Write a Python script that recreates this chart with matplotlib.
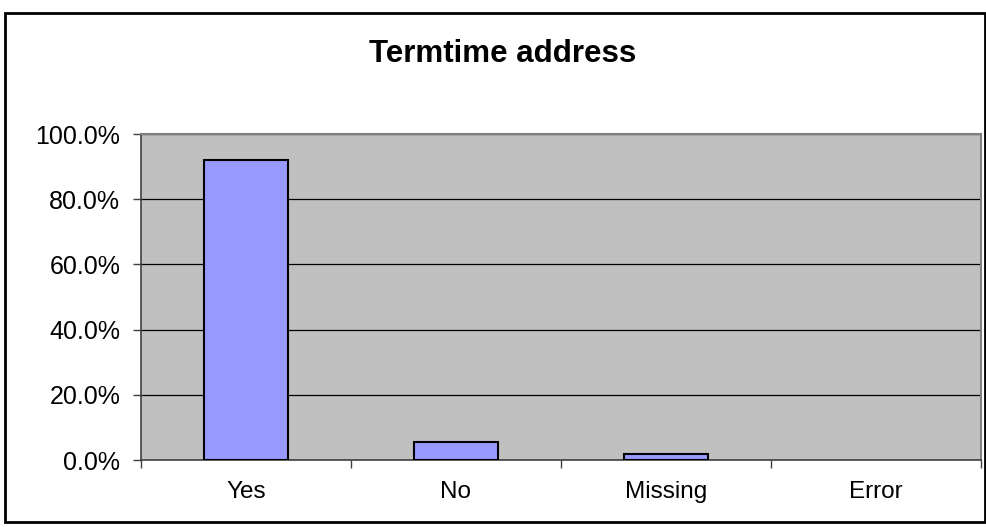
import numpy as np
import matplotlib
matplotlib.use('Agg')
import matplotlib.pyplot as plt
from matplotlib.patches import Rectangle
from matplotlib.ticker import FuncFormatter, FixedLocator

# ── Data ───────────────────────────────────────────────────────────────────
categories = ['Yes', 'No', 'Missing', 'Error']
shares = [92.0, 5.5, 1.9, 0.0]          # percent of responses
y_ticks = [0, 20, 40, 60, 80, 100]

plt.rcParams['font.family'] = ['Liberation Sans', 'DejaVu Sans']

W, H = 987, 527
fig = plt.figure(figsize=(W / 100, H / 100), dpi=100)
fig.patch.set_facecolor('white')

# outer chart border (Excel chart area)
fig.patches.append(Rectangle((5 / W, 1 - 522 / H), 980 / W, 509 / H,
                             transform=fig.transFigure, fill=False,
                             edgecolor='black', linewidth=2))

ax = fig.add_axes([141 / W, 1 - 460 / H, 840 / W, 326 / H])
ax.set_facecolor('#C0C0C0')

x = np.arange(len(categories))
edges = ['black' if v > 0 else 'none' for v in shares]
ax.bar(x, shares, width=0.4, color='#9999FF', edgecolor=edges,
       linewidth=1.5, zorder=3)

ax.set_xlim(-0.5, len(categories) - 0.5)
ax.set_ylim(0, 100)
ax.set_yticks(y_ticks)
ax.yaxis.set_major_formatter(FuncFormatter(lambda v, p: f'{v:.1f}%'))
ax.yaxis.grid(True, color='black', linewidth=0.9, zorder=1)

ax.set_xticks(x)
ax.set_xticklabels(categories)
ax.xaxis.set_minor_locator(FixedLocator(np.arange(len(categories) + 1) - 0.5))
ax.tick_params(axis='x', which='major', length=0, pad=15, labelsize=17.5)
ax.tick_params(axis='x', which='minor', length=5.5, width=1, direction='out',
               color='#404040')
ax.tick_params(axis='y', length=5.5, width=1, pad=9.5, labelsize=18,
               color='#404040')

for side in ['top', 'right']:
    ax.spines[side].set_color('#808080')
    ax.spines[side].set_linewidth(1.5)
for side in ['left', 'bottom']:
    ax.spines[side].set_color('#404040')
    ax.spines[side].set_linewidth(1.2)

fig.text(503 / W, 1 - 54 / H, 'Termtime address', ha='center', va='center',
         fontsize=22.5, fontweight='bold')

fig.savefig('out.png', dpi=100)
